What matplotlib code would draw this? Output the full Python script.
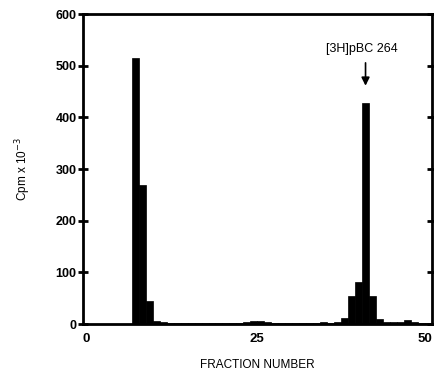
import numpy as np
from matplotlib import pyplot as plt

plt.rcParams['font.family'] = ['Liberation Sans', 'DejaVu Sans']

# fraction numbers (left edge of each bar) and counts (cpm x 10^-3)
fractions = list(range(1, 50))
cpm = [0, 0, 0, 0, 0, 0, 515, 270, 45, 6,
       3, 2, 1, 1, 1, 1, 1, 1, 1, 1,
       1, 1, 3, 5, 5, 4, 2, 1, 1, 1,
       1, 1, 1, 3, 1, 3, 11, 54, 82, 428,
       54, 10, 4, 4, 4, 7, 4, 1, 1]

xticks = [0, 25, 50]
yticks = [0, 100, 200, 300, 400, 500, 600]

peak_label = "[3H]pBC 264"
peak_x = 40.5
peak_y = 428

fig = plt.figure(figsize=(4.34, 3.72), dpi=100)
ax = fig.add_axes([0.191, 0.129, 0.804, 0.833])

ax.bar(fractions, cpm, width=1.0, align='edge', color='black', edgecolor='black', linewidth=0.5)

ax.set_xlim(0, 50)
ax.set_ylim(0, 600)
ax.set_xticks(xticks)
ax.set_yticks(yticks)
ax.set_xticklabels([str(t) for t in xticks], fontsize=9.5, fontweight='bold')
ax.set_yticklabels([str(t) for t in yticks], fontsize=9, fontweight='bold')
ax.get_xticklabels()[0].set_ha('left')
ax.get_xticklabels()[-1].set_ha('right')

for s in ax.spines.values():
    s.set_linewidth(2)

ax.tick_params(axis='y', which='both', left=True, right=True, direction='inout',
               length=7, width=2, pad=1)
ax.tick_params(axis='x', which='both', bottom=False, pad=3)

ax.set_xlabel("FRACTION NUMBER", fontsize=8.5, labelpad=10)
ax.set_ylabel("Cpm x 10$^{-3}$", fontsize=8.5, labelpad=16)

# arrow marking the labelled peak
ax.annotate("", xy=(peak_x, peak_y + 28), xytext=(peak_x, peak_y + 83),
            arrowprops=dict(arrowstyle='-|>', color='black', lw=1.2, mutation_scale=12))
ax.text(peak_x - 0.5, peak_y + 93, peak_label, ha='center', va='bottom', fontsize=9)

fig.savefig('out.png', dpi=100)
